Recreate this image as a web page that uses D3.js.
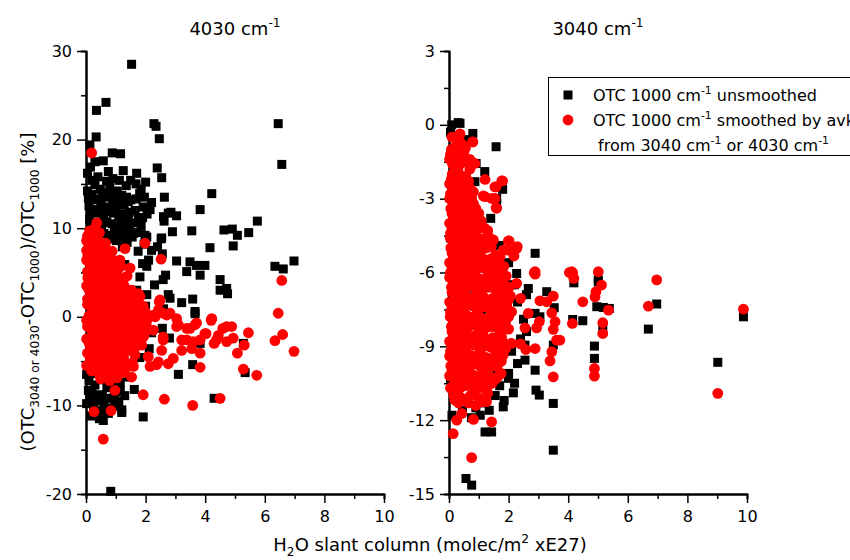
<!DOCTYPE html>
<html>
<head>
<meta charset="utf-8">
<script src="https://cdn.jsdelivr.net/npm/d3@7"></script>
<style>
  body { margin: 0; background: #fff; }
  text { font-family: "DejaVu Sans", sans-serif; white-space: pre; }
</style>
</head>
<body>
<div id="chart"></div>
<script>
// ---- data ----
// left panel: 4030 cm-1, black = unsmoothed, red = smoothed by avks
const left_unsmoothed = [
  [1.53,28.5],[0.35,23.3],[0.67,24.2],[0.34,20.3],[0.13,19.4],[2.28,21.8],[2.35,21.5],[2.46,20.1],[6.45,21.8],[6.57,17.2],
  [0.88,18.5],[1.16,18.4],[0.3,17.5],[0.58,17.6],[2.39,16.8],[2.54,15.7],[1.25,16.5],[1.7,16.2],[2.0,15.2],[1.68,15.0],
  [0.75,16.4],[0.69,15.3],[0.2,15.4],[2.63,13.5],[1.96,13.5],[1.42,13.0],[1.92,12.4],[4.22,13.9],[3.83,12.1],[2.85,11.8],
  [3.04,11.4],[2.62,10.8],[1.42,11.1],[1.76,11.1],[1.08,10.0],[0.92,11.7],[3.55,9.7],[4.63,9.8],[4.91,9.9],[5.08,9.2],
  [5.46,9.5],[5.75,10.8],[4.94,8.0],[4.16,7.8],[2.52,8.8],[1.7,9.5],[1.59,9.4],[2.04,9.0],[2.56,7.1],[2.2,7.5],
  [3.04,6.3],[3.49,6.2],[3.71,5.8],[3.99,5.8],[3.38,5.1],[3.83,4.7],[6.34,5.7],[6.62,5.4],[6.98,6.3],[4.5,4.2],
  [2.67,4.7],[1.81,4.5],[2.04,5.7],[4.5,3.0],[4.75,2.6],[4.72,3.2],[2.76,2.5],[3.21,1.6],[3.58,2.0],[3.66,0.35],[2.04,2.5],
  [2.56,-1.3],[2.12,-3.6],[3.58,-5.4],[3.1,-6.5],[5.34,-6.3],[5.28,-3.0],[3.83,-3.0],[4.3,-9.2],[1.62,-8.2],[1.92,-11.3],
  [1.2,-10.5],[0.58,-11.7],[0.83,-19.7],[1.08,-9.6],[0.08,-8.3],[0.13,-8.6],[2.82,2.1],[3.66,0.6],[2.59,4.2],[2.54,8.9],
  [2.15,12.1],[2.76,11.7],[1.98,9.2],
  [0.05,14.2],[0.1,12.5],[0.12,11.0],[0.15,9.3],[0.2,13.8],[0.22,7.5],[0.25,12.1],[0.3,14.9],[0.32,10.4],[0.35,8.6],
  [0.4,13.3],[0.42,11.7],[0.45,6.8],[0.5,12.8],[0.52,9.9],[0.55,14.0],[0.6,11.2],[0.62,8.1],[0.65,13.5],[0.7,10.7],
  [0.72,12.4],[0.75,7.3],[0.8,14.6],[0.82,9.2],[0.85,11.9],[0.9,13.1],[0.92,6.2],[0.95,10.1],[1.0,12.3],[1.02,8.6],
  [1.05,14.2],[1.1,11.4],[1.15,9.6],[1.2,13.7],[1.22,7.9],[1.28,12.6],[1.3,10.3],[1.35,14.8],[1.38,8.4],[1.45,11.8],
  [1.5,13.2],[1.55,9.0],[1.6,10.6],[1.65,12.0],[1.75,7.4],[1.8,13.9],[1.85,10.2],[1.95,8.2],[2.05,11.6],[2.1,6.4],
  [2.2,12.9],[2.6,11.3],[1.85,14.4],[2.4,7.9],[2.9,9.6],
  [0.08,13.4],[0.18,11.8],[0.28,13.2],[0.38,12.0],[0.48,14.4],[0.58,10.6],[0.68,12.0],[0.78,13.8],[0.88,10.5],[0.98,13.6],
  [1.08,12.9],[1.18,10.9],[1.26,11.6],[1.36,13.5],[1.46,10.1],[1.12,15.4],[0.4,15.8],[0.9,15.6],[1.5,15.4],[0.15,10.2],
  [0.6,9.4],[1.0,9.3],[0.3,9.0],[0.78,8.8],[1.25,8.9],[1.68,13.3],[1.9,11.2],[1.4,9.5],[0.05,16.2],[0.15,16.9],
  [0.05,-5.5],[0.1,-7.2],[0.12,-9.1],[0.18,-6.4],[0.2,-8.3],[0.25,-10.2],[0.3,-7.7],[0.35,-9.5],[0.4,-6.0],[0.45,-8.8],
  [0.5,-10.6],[0.55,-7.1],[0.6,-9.9],[0.65,-5.3],[0.7,-8.0],[0.75,-10.9],[0.8,-6.7],[0.85,-9.2],[0.9,-7.6],[0.95,-10.1],
  [1.0,-8.5],[1.05,-6.2],[1.1,-9.6],[1.15,-7.4],[1.2,-10.8],[1.25,-5.9],[1.3,-8.9],[1.4,-6.8],[0.15,-11.2],[0.45,-11.5],
  [0.02,-6.5],[0.02,-9.8],[0.22,-9.3],[0.55,-9.0],[0.35,-10.9],[0.65,-10.3],[0.95,-9.0],[1.15,-8.3],[0.28,-5.8],
  [0.1,4.5],[0.3,2.1],[0.5,5.3],[0.7,-1.2],[0.9,3.4],[1.1,0.8],[1.3,5.9],[1.5,-2.5],[1.7,3.0],[1.9,6.0],
  [0.2,-3.1],[0.6,0.4],[1.0,-4.0],[1.4,1.7],[0.4,-0.8],[0.8,-3.7],[1.2,2.6],[1.6,-0.6],[2.0,1.2],[2.2,-1.8],
  [2.3,3.6],[2.6,0.9],[2.8,-2.4],[1.8,-4.6]
];
const left_smoothed = [
  [0.19,18.5],[0.36,10.6],[0.45,9.5],[1.98,8.3],[1.31,7.7],[2.52,6.5],[1.48,5.5],[1.14,6.4],[6.57,4.1],[6.45,0.4],
  [6.6,-2.0],[6.34,-2.7],[6.98,-3.9],[5.73,-6.6],[5.28,-5.9],[5.31,-3.2],[5.08,-4.1],[5.45,-1.8],[4.94,-2.4],[4.89,-1.1],
  [4.72,-2.8],[4.59,-1.3],[4.44,-2.1],[4.3,-3.0],[4.2,-0.4],[4.03,-1.9],[3.83,-2.6],[3.71,-0.7],[3.49,-1.3],[3.38,-2.6],
  [3.55,-3.6],[3.83,-4.1],[3.83,-5.7],[3.21,-3.8],[2.93,-4.7],[2.76,-5.3],[3.1,-0.9],[2.82,0.4],[2.59,0.4],[2.32,0.0],
  [2.46,1.7],[2.59,-2.6],[2.54,-3.8],[2.43,-5.1],[2.15,-5.6],[2.37,-5.4],[1.92,-8.8],[2.63,-9.3],[3.58,-10.0],[4.5,-9.2],
  [0.58,-13.8],[0.27,-10.7],[0.84,-10.6],[1.53,-6.8],[0.97,-8.3],[0.19,-6.1],[2.26,-1.5],[2.09,-4.5],[1.92,-2.3],[1.81,1.1],
  [1.76,2.6],[1.53,2.8],[2.04,-0.4],[1.87,-3.2],[1.64,-4.3],[1.59,-5.6],
  [0.86,5.5],[1.25,4.2],[1.53,3.0],[1.81,2.3],[2.48,1.9],[2.43,0.8],[2.26,0.2],[2.71,0.2],[3.04,-0.2],[3.04,-1.1],
  [3.38,-1.3],[3.66,-0.9],[4.22,-0.2],[3.99,-1.9],[2.59,-2.3],[3.21,-2.6],[3.6,-2.8],[4.38,-2.6],[4.72,-1.1],
  [0.05,9.1],[0.2,8.8],[0.38,9.3],[0.1,8.0],[0.28,7.7],[0.55,8.2],[0.06,6.9],[0.24,7.2],[0.46,6.7],[0.72,7.1],
  [0.14,6.1],[0.36,5.8],[0.62,6.2],[0.88,5.9],[0.05,5.1],[0.3,4.8],[0.52,5.3],[0.79,4.9],[1.05,5.2],
  [0.18,4.1],[0.42,3.8],[0.66,4.2],[0.95,3.9],[1.24,4.3],[0.09,3.1],[0.33,2.8],[0.57,3.2],[0.84,2.9],[1.16,3.3],[1.38,2.7],
  [0.05,2.0],[0.29,1.7],[0.61,2.2],[0.9,1.9],[1.21,2.1],[1.48,1.8],[1.68,2.3],
  [0.19,1.1],[0.47,0.8],[0.76,1.2],[1.02,0.9],[1.31,1.0],[1.59,0.7],[1.92,1.2],
  [0.1,0.1],[0.36,-0.2],[0.64,0.2],[0.96,-0.1],[1.26,0.1],[1.54,-0.2],[1.84,0.2],[2.1,-0.1],
  [0.05,-1.1],[0.31,-0.8],[0.56,-1.2],[0.86,-0.9],[1.14,-1.1],[1.44,-0.8],[1.74,-1.2],[2.02,-0.9],
  [0.21,-2.1],[0.44,-1.8],[0.74,-2.2],[1.06,-1.9],[1.34,-2.1],[1.66,-1.8],[1.96,-2.0],
  [0.11,-3.0],[0.36,-3.2],[0.64,-2.8],[0.91,-3.1],[1.19,-2.9],[1.51,-3.2],[1.79,-2.9],
  [0.05,-4.1],[0.29,-3.8],[0.56,-4.2],[0.84,-3.9],[1.11,-4.1],[1.41,-3.8],
  [0.2,-5.0],[0.46,-5.2],[0.71,-4.8],[0.99,-5.1],[1.26,-4.9],[1.56,-5.2],
  [0.34,-6.0],[0.61,-6.2],[0.91,-5.8],[1.19,-6.1],[0.49,-7.0],[0.79,-7.2],[1.04,-6.9],
  [0.02,-2.5],[0.02,3.5],[0.02,7.5],[0.02,-5.5],
  [0.12,9.7],[0.3,10.0],[0.02,8.6],[0.16,8.4],[0.42,8.6],[0.66,8.3],
  [0.15,7.6],[0.38,7.4],[0.6,7.7],[0.88,7.4],[0.02,6.4],[0.26,6.6],[0.5,6.3],[0.76,6.6],[1.0,6.3],
  [0.18,5.5],[0.42,5.6],[0.66,5.4],[0.94,5.6],[1.18,5.7],[0.06,4.4],[0.3,4.6],[0.54,4.4],[0.8,4.6],[1.1,4.4],[1.38,4.6],
  [0.22,3.4],[0.46,3.6],[0.7,3.4],[1.0,3.6],[1.28,3.5],[0.17,2.5],[0.45,2.4],[0.74,2.6],[1.04,2.4],[1.34,2.5],[1.6,2.6],
  [0.05,1.4],[0.33,1.6],[0.6,1.4],[0.88,1.6],[1.16,1.4],[1.45,1.6],[1.76,1.4],
  [0.22,0.6],[0.5,0.4],[0.8,0.6],[1.1,0.4],[1.4,0.6],[1.7,0.4],[1.98,0.6],
  [0.02,-0.4],[0.22,-0.6],[0.5,-0.4],[0.8,-0.6],[1.1,-0.4],[1.4,-0.6],[1.7,-0.4],[1.96,-0.6],
  [0.18,-1.4],[0.44,-1.6],[0.7,-1.4],[1.0,-1.6],[1.3,-1.4],[1.6,-1.6],[1.88,-1.4],
  [0.32,-2.6],[0.58,-2.4],[0.9,-2.6],[1.2,-2.4],[1.5,-2.6],[1.8,-2.4],
  [0.22,-3.4],[0.5,-3.6],[0.76,-3.4],[1.04,-3.6],[1.32,-3.4],[1.62,-3.6],
  [0.14,-4.6],[0.42,-4.4],[0.7,-4.6],[0.98,-4.4],[1.26,-4.6],
  [0.32,-5.5],[0.6,-5.6],[0.86,-5.4],[1.12,-5.6],[1.4,-5.5],
  [0.46,-6.6],[0.74,-6.4],[1.0,-6.6],[1.3,-6.3]
];
// right panel: 3040 cm-1
const right_unsmoothed = [
  [0.37,0.06],[0.09,0.0],[0.8,-0.35],[1.58,-0.89],[0.91,-1.57],[1.8,-2.62],[1.58,-2.99],[1.1,-4.11],[2.89,-5.22],[2.27,-6.04],
  [5.01,-6.3],[4.19,-6.42],[5.01,-6.38],[4.96,-7.39],[5.18,-7.42],[5.38,-7.46],[6.97,-7.28],[6.69,-8.3],[9.88,-7.8],[9.02,-9.65],
  [4.15,-7.91],[4.49,-7.96],[5.16,-8.23],[4.88,-8.99],[4.88,-9.49],[2.66,-6.65],[3.28,-6.78],[3.53,-7.43],[2.89,-7.66],[3.05,-7.8],
  [3.5,-8.95],[2.55,-8.95],[2.55,-9.56],[2.89,-9.97],[2.92,-10.78],[3.03,-10.98],[3.5,-11.32],[3.5,-13.22],[2.05,-6.51],[1.99,-10.3],
  [2.16,-10.89],[1.82,-11.46],[1.21,-12.48],[1.43,-12.48],[0.57,-14.37],[0.76,-14.64],[0.31,0.09],[0.87,-2.31],[1.6,-2.99],[1.04,-4.07],
  [0.05,-0.3],[0.15,-1.2],[0.1,-2.5],[0.2,-3.4],[0.05,-4.6],[0.15,-5.5],[0.1,-6.8],[0.05,-7.7],[0.2,-8.6],[0.1,-9.4],
  [0.05,-10.3],[0.15,-11.0],[0.1,-11.8],[0.3,-10.7],[0.45,-11.6],[0.6,-11.2],[0.75,-11.9],[0.9,-11.5],[1.05,-11.8],[1.2,-11.3],
  [1.35,-11.6],[1.55,-11.0],[1.7,-10.6],[1.85,-11.2],[2.0,-10.1],[2.2,-10.5],[2.3,-9.7],[2.1,-9.2],[2.4,-8.7],[2.5,-7.9],
  [2.6,-8.4],[2.3,-7.2],[2.2,-6.5],[2.6,-6.9],[1.9,-6.2],[2.0,-5.6],[1.7,-4.9],[1.4,-3.8],[1.3,-4.5],[1.6,-3.2],
  [1.2,-1.9],[0.6,-0.6],[0.5,-1.5],[0.4,-3.0],[0.7,-4.0],[1.0,-5.5],[0.8,-6.6],[1.1,-7.5],[0.5,-8.2],[1.4,-8.8],
  [0.9,-9.7],[1.6,-9.9],[0.4,-5.0],[1.3,-6.0]
];
const right_smoothed = [
  [6.97,-6.3],[5.01,-5.97],[4.12,-5.97],[2.89,-5.97],[2.27,-5.02],[2.02,-4.72],[1.8,-2.28],[1.58,-2.52],[0.8,-0.69],[0.35,-0.41],
  [0.87,-1.57],[0.82,-2.72],[1.54,-2.99],[1.21,-2.92],[1.6,-3.39],[0.93,-3.6],[0.7,-4.28],[1.71,-5.36],[1.99,-5.09],[1.43,-5.63],
  [4.15,-6.01],[4.19,-6.24],[5.12,-6.51],[4.93,-6.78],[4.9,-6.99],[4.49,-7.19],[5.35,-7.53],[6.69,-7.37],[9.88,-7.49],[9.02,-10.91],
  [4.14,-8.07],[5.16,-8.04],[5.16,-8.48],[4.88,-9.9],[4.88,-10.21],[3.5,-6.96],[3.05,-7.15],[3.28,-7.19],[3.45,-7.64],[3.56,-8.0],
  [3.03,-8.0],[3.5,-8.31],[2.94,-8.25],[3.61,-8.75],[3.45,-9.22],[3.39,-9.59],[3.5,-10.24],[2.89,-9.09],[2.58,-9.13],[2.89,-6.07],
  [0.76,-13.52],[0.14,-12.55],[0.26,-12.0],[0.82,-11.97],[1.43,-12.07],[1.26,-11.25],[1.1,-11.25],[0.65,-11.3],[0.2,-11.19],[0.43,-11.73],
  [0.37,-0.37],[0.79,-0.69],[1.21,-2.22],[1.77,-2.28],[1.54,-2.52],[0.54,-2.17],[0.76,-2.72],[1.15,-2.89],[1.43,-2.99],[1.58,-3.37],
  [0.82,-3.53],[0.76,-4.41],[1.49,-4.68],[1.99,-4.72],[2.29,-4.95],[2.18,-5.33],[1.82,-5.09],[2.86,-6.0],[4.04,-6.0],[3.72,-8.75],
  [2.27,-6.44],[2.4,-7.05],[2.66,-7.66],[2.55,-8.25],[2.4,-8.9],[2.1,-8.88],
  [0.1,-0.5],[0.33,-0.6],[0.05,-1.2],[0.24,-1.3],[0.5,-1.1],[0.11,-2.0],[0.31,-1.9],[0.56,-2.1],[0.7,-1.8],
  [0.05,-2.8],[0.26,-2.9],[0.45,-2.7],[0.64,-3.0],[0.1,-3.6],[0.31,-3.7],[0.49,-3.5],[0.7,-3.8],[1.0,-3.6],
  [0.05,-4.4],[0.24,-4.5],[0.46,-4.3],[0.66,-4.6],[0.91,-4.4],[1.2,-4.2],
  [0.1,-5.2],[0.29,-5.3],[0.51,-5.1],[0.71,-5.4],[0.95,-5.2],[1.25,-5.0],[1.55,-5.3],
  [0.05,-6.0],[0.26,-6.1],[0.45,-5.9],[0.66,-6.2],[0.85,-6.0],[1.1,-5.8],[1.4,-6.1],[1.7,-5.9],
  [0.1,-6.8],[0.3,-6.9],[0.51,-6.7],[0.75,-7.0],[1.0,-6.8],[1.31,-6.6],[1.6,-6.9],[1.9,-6.7],
  [0.05,-7.6],[0.26,-7.7],[0.45,-7.5],[0.7,-7.8],[0.95,-7.6],[1.21,-7.4],[1.5,-7.7],[1.8,-7.5],[2.1,-7.6],
  [0.1,-8.4],[0.35,-8.5],[0.6,-8.3],[0.85,-8.6],[1.1,-8.4],[1.4,-8.2],[1.7,-8.5],[2.0,-8.3],
  [0.05,-9.2],[0.3,-9.3],[0.55,-9.1],[0.8,-9.4],[1.05,-9.2],[1.35,-9.0],[1.65,-9.3],[1.9,-9.1],
  [0.1,-10.0],[0.35,-10.1],[0.6,-9.9],[0.9,-10.2],[1.2,-10.0],[1.5,-9.8],[1.75,-10.1],
  [0.05,-10.7],[0.3,-10.8],[0.55,-10.6],[0.85,-10.9],[1.15,-10.7],[1.45,-10.5],
  [0.2,-0.9],[0.45,-0.8],[0.12,-1.6],[0.38,-1.6],[0.62,-1.5],
  [0.02,-2.4],[0.2,-2.4],[0.42,-2.3],[0.62,-2.5],[0.18,-3.2],[0.38,-3.3],[0.56,-3.1],[0.82,-3.2],
  [0.02,-4.0],[0.2,-4.0],[0.4,-4.1],[0.58,-3.9],[0.82,-4.0],[1.08,-3.9],
  [0.15,-4.8],[0.36,-4.9],[0.56,-4.7],[0.8,-4.8],[1.06,-4.7],[1.36,-4.6],
  [0.02,-5.6],[0.2,-5.6],[0.4,-5.5],[0.6,-5.7],[0.82,-5.6],[1.02,-5.5],[1.28,-5.6],[1.56,-5.7],
  [0.16,-6.4],[0.36,-6.5],[0.56,-6.3],[0.76,-6.4],[0.96,-6.5],[1.2,-6.3],[1.5,-6.4],[1.8,-6.3],
  [0.02,-7.2],[0.2,-7.2],[0.4,-7.3],[0.62,-7.1],[0.86,-7.3],[1.12,-7.2],[1.42,-7.1],[1.72,-7.2],[2.0,-7.1],
  [0.16,-8.0],[0.36,-8.1],[0.58,-7.9],[0.82,-8.0],[1.06,-8.1],[1.3,-7.9],[1.6,-8.0],[1.9,-8.0],
  [0.02,-8.8],[0.22,-8.8],[0.46,-8.9],[0.72,-8.7],[0.96,-8.8],[1.22,-8.9],[1.52,-8.7],[1.8,-8.8],
  [0.18,-9.6],[0.42,-9.7],[0.68,-9.5],[0.94,-9.6],[1.2,-9.6],[1.5,-9.5],[1.76,-9.6],
  [0.2,-10.4],[0.46,-10.3],[0.72,-10.4],[1.02,-10.3],[1.32,-10.4],[1.6,-10.3],
  [0.16,-11.0],[0.42,-11.1],[0.72,-11.0],[1.0,-11.1],[1.3,-10.9],
  [0.08,-1.0],[0.3,-1.05],[0.55,-0.95],[0.02,-1.4],[0.22,-1.45],[0.48,-1.35],[0.7,-1.4],
  [0.08,-2.2],[0.28,-2.25],[0.5,-2.2],[0.66,-2.3],[0.14,-2.6],[0.35,-2.6],[0.55,-2.55],[0.72,-2.6],
  [0.02,-3.0],[0.2,-3.05],[0.4,-3.0],[0.6,-2.95],[0.76,-3.0],[0.06,-3.4],[0.26,-3.45],[0.44,-3.4],[0.66,-3.35],[0.9,-3.4],
  [0.15,-3.8],[0.36,-3.85],[0.54,-3.8],[0.76,-3.75],[0.95,-3.8],[0.1,-4.2],[0.3,-4.25],[0.52,-4.2],[0.72,-4.15],[1.0,-4.2],[1.3,-4.3],
  [0.04,-4.6],[0.26,-4.65],[0.48,-4.6],[0.72,-4.55],[0.96,-4.6],[1.22,-4.6],
  [0.06,-5.0],[0.26,-5.05],[0.46,-5.0],[0.66,-4.95],[0.88,-5.0],[1.14,-5.0],[1.42,-4.95],
  [0.16,-5.4],[0.36,-5.45],[0.56,-5.4],[0.78,-5.35],[1.12,-5.4],[1.4,-5.45],[1.68,-5.4],
  [0.1,-5.8],[0.32,-5.85],[0.52,-5.8],[0.74,-5.75],[0.96,-5.8],[1.24,-5.85],[1.56,-5.8],[1.84,-5.75],
  [0.02,-6.2],[0.2,-6.25],[0.4,-6.2],[0.6,-6.15],[0.8,-6.2],[1.02,-6.25],[1.28,-6.2],[1.58,-6.2],[1.92,-6.15],
  [0.08,-6.6],[0.26,-6.65],[0.46,-6.6],[0.66,-6.55],[0.88,-6.6],[1.14,-6.65],[1.44,-6.6],[1.74,-6.55],[2.02,-6.6],
  [0.18,-7.0],[0.4,-7.05],[0.62,-7.0],[0.88,-6.95],[1.16,-7.0],[1.46,-7.05],[1.76,-7.0],[2.06,-6.95],
  [0.1,-7.4],[0.32,-7.45],[0.54,-7.4],[0.78,-7.35],[1.04,-7.4],[1.34,-7.45],[1.64,-7.4],[1.94,-7.35],
  [0.04,-7.8],[0.2,-7.85],[0.36,-7.8],[0.6,-7.75],[0.84,-7.8],[1.1,-7.85],[1.4,-7.8],[1.7,-7.75],[2.0,-7.8],
  [0.08,-8.2],[0.26,-8.25],[0.48,-8.2],[0.72,-8.15],[0.98,-8.2],[1.24,-8.25],[1.54,-8.2],[1.84,-8.15],
  [0.16,-8.6],[0.4,-8.65],[0.64,-8.6],[0.9,-8.55],[1.16,-8.6],[1.46,-8.65],[1.76,-8.6],
  [0.1,-9.0],[0.34,-9.05],[0.6,-9.0],[0.86,-8.95],[1.12,-9.0],[1.44,-9.05],[1.74,-9.0],
  [0.02,-9.4],[0.22,-9.45],[0.46,-9.4],[0.7,-9.35],[0.96,-9.4],[1.24,-9.45],[1.54,-9.4],[1.82,-9.35],
  [0.06,-9.8],[0.28,-9.85],[0.52,-9.8],[0.78,-9.75],[1.04,-9.8],[1.34,-9.85],[1.62,-9.8],
  [0.02,-10.2],[0.24,-10.25],[0.5,-10.2],[0.78,-10.15],[1.08,-10.2],[1.38,-10.25],[1.66,-10.2],
  [0.14,-10.6],[0.42,-10.65],[0.7,-10.6],[1.0,-10.55],[1.3,-10.6],[0.32,-11.3],[0.9,-11.4]
];

const x_ticks = [0, 2, 4, 6, 8, 10];
const x_minor = [1, 3, 5, 7, 9];
const left_y_ticks = [-20, -10, 0, 10, 20, 30];
const left_y_minor = [-15, -5, 5, 15, 25];
const right_y_ticks = [-15, -12, -9, -6, -3, 0, 3];
const right_y_minor = [-13.5, -10.5, -7.5, -4.5, -1.5, 1.5];

const legend_labels = ["OTC 1000 cm", "OTC 1000 cm"];

const W = 850, H = 560;
const svg = d3.select("#chart").append("svg").attr("width", W).attr("height", H);

// text with sub/superscripts: parts = [[text, ""|"sub"|"sup"], ...]
function richText(sel, parts, size) {
    let t = sel.append("text").attr("font-size", size).attr("fill", "#000");
    let shift = 0;
    for (let [s, k] of parts) {
        let target = k === "sup" ? -0.42 * size : k === "sub" ? 0.3 * size : 0;
        t.append("tspan").attr("dy", target - shift)
            .attr("font-size", k ? size * 0.68 : size).text(s);
        shift = target;
    }
    return t;
}

function drawPanel(x0, x1, yDomain, yTicks, yMinor, black, red, title) {
    let top = 51, bottom = 494;
    let xScale = d3.scaleLinear().domain([0, 10]).range([x0, x1]);
    let yScale = d3.scaleLinear().domain(yDomain).range([bottom, top]);
    let g = svg.append("g");

    // minor ticks
    g.append("g").attr("transform", "translate(0," + bottom + ")")
        .call(d3.axisBottom(xScale).tickValues(x_minor).tickSize(5).tickFormat(""));
    g.append("g").attr("transform", "translate(" + x0 + ",0)")
        .call(d3.axisLeft(yScale).tickValues(yMinor).tickSize(5).tickFormat(""));

    g.append("g").attr("transform", "translate(0," + bottom + ")")
        .call(d3.axisBottom(xScale).tickValues(x_ticks).tickSize(9).tickSizeOuter(0).tickPadding(8).tickFormat(d => String(d)));
    g.append("g").attr("transform", "translate(" + x0 + ",0)")
        .call(d3.axisLeft(yScale).tickValues(yTicks).tickSize(9).tickSizeOuter(0).tickPadding(5).tickFormat(d => String(d)));
    g.selectAll(".domain").attr("stroke-width", 2);
    g.selectAll(".tick line").attr("stroke-width", 1.5);
    g.selectAll(".tick text").attr("font-family", "DejaVu Sans").attr("font-size", 16).attr("fill", "#000");

    // dots: unsmoothed squares first, smoothed circles on top
    let dots = g.append("g");
    dots.selectAll("rect").data(black).enter().append("rect")
        .attr("x", d => xScale(d[0]) - 4.5).attr("y", d => yScale(d[1]) - 4.5)
        .attr("width", 9).attr("height", 9).attr("fill", "#000");
    dots.selectAll("circle").data(red).enter().append("circle")
        .attr("cx", d => xScale(d[0])).attr("cy", d => yScale(d[1]))
        .attr("r", 5.4).attr("fill", "#ff0000");

    richText(svg.append("g"), [[title, ""], ["-1", "sup"]], 18)
        .attr("x", (x0 + x1) / 2).attr("y", 35).attr("text-anchor", "middle");
}

drawPanel(86, 384, [-20, 30], left_y_ticks, left_y_minor, left_unsmoothed, left_smoothed, "4030 cm");
drawPanel(449, 747, [-15, 3], right_y_ticks, right_y_minor, right_unsmoothed, right_smoothed, "3040 cm");

// axis labels
richText(svg.append("g"), [["H", ""], ["2", "sub"], ["O slant column (molec/m", ""], ["2", "sup"], [" xE27)", ""]], 18)
    .attr("x", 430).attr("y", 551).attr("text-anchor", "middle");
richText(svg.append("g").attr("transform", "translate(34,292) rotate(-90)"),
    [["(OTC", ""], ["3040 or 4030", "sub"], ["-OTC", ""], ["1000", "sub"], [")/OTC", ""], ["1000", "sub"], [" [%]", ""]], 18)
    .attr("x", 0).attr("y", 0).attr("text-anchor", "middle");

// legend (box runs past the right edge, as in the original)
let lg = svg.append("g");
lg.append("rect").attr("x", 548.5).attr("y", 77.5).attr("width", 330).attr("height", 78)
    .attr("fill", "#fff").attr("stroke", "#000").attr("stroke-width", 1);
lg.append("rect").attr("x", 563.5).attr("y", 90.5).attr("width", 9).attr("height", 9).attr("fill", "#000");
lg.append("circle").attr("cx", 568).attr("cy", 120).attr("r", 5.4).attr("fill", "#ff0000");
richText(lg, [[legend_labels[0], ""], ["-1", "sup"], [" unsmoothed", ""]], 16).attr("x", 593).attr("y", 101);
richText(lg, [[legend_labels[1], ""], ["-1", "sup"], [" smoothed by avks", ""]], 16).attr("x", 593).attr("y", 126);
richText(lg, [[" from 3040 cm", ""], ["-1", "sup"], [" or 4030 cm", ""], ["-1", "sup"]], 16).attr("x", 593).attr("y", 151);
</script>
</body>
</html>
